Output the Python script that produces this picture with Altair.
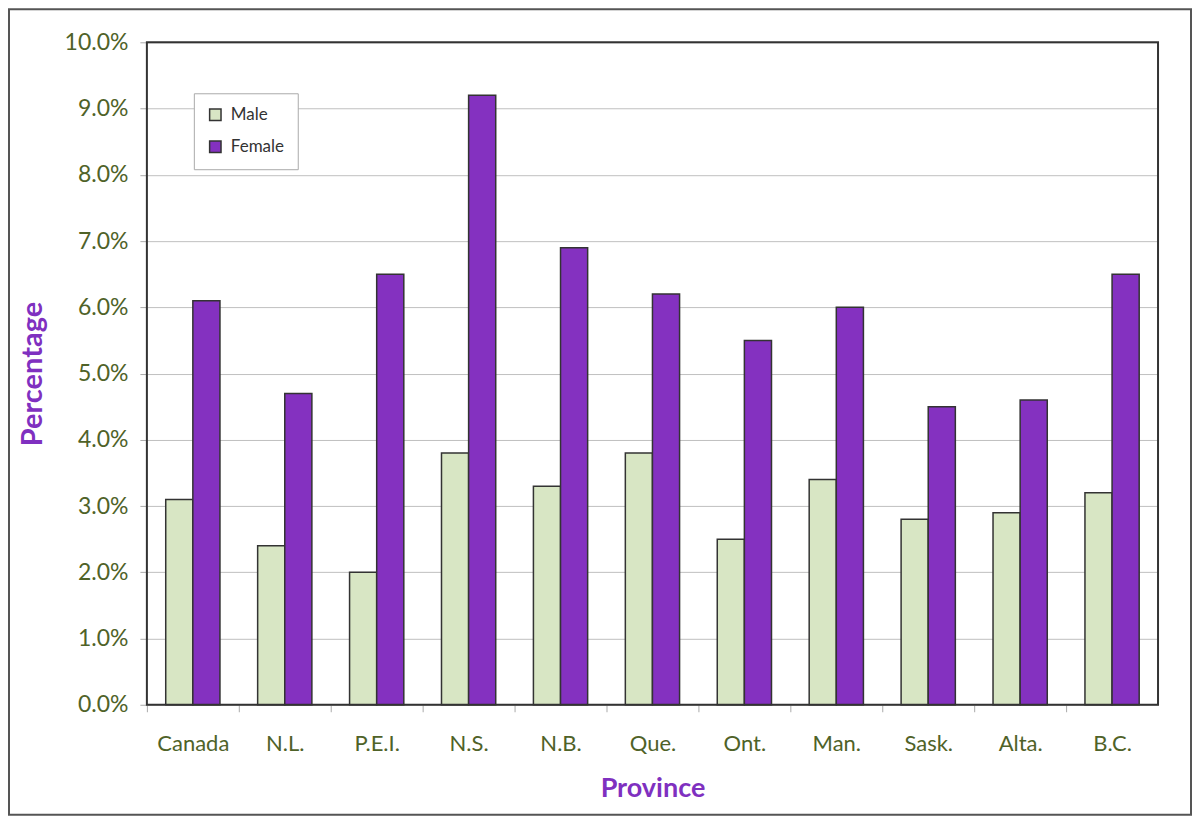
import altair as alt
import pandas as pd

provinces = ["Canada", "N.L.", "P.E.I.", "N.S.", "N.B.", "Que.", "Ont.", "Man.", "Sask.", "Alta.", "B.C."]
male = [3.1, 2.4, 2.0, 3.8, 3.3, 3.8, 2.5, 3.4, 2.8, 2.9, 3.2]
female = [6.1, 4.7, 6.5, 9.2, 6.9, 6.2, 5.5, 6.0, 4.5, 4.6, 6.5]
series = ["Male", "Female"]
colors = ["#d8e6c4", "#8431c0"]
y_ticks = [i / 100 for i in range(0, 11)]

rows = []
for p, m, f in zip(provinces, male, female):
    rows.append({"Province": p, "Sex": "Male", "Value": m / 100})
    rows.append({"Province": p, "Sex": "Female", "Value": f / 100})
df = pd.DataFrame(rows)

W, H = 1012, 663
PL, PT, PR, PB = 139, 34, 34, 111

font = "Lato"
label_color = "#4f6228"
title_color = "#7f30c0"

bars = alt.Chart(df).mark_bar(stroke="#333333", strokeWidth=1.5).encode(
    x=alt.X(
        "Province:N",
        sort=provinces,
        scale=alt.Scale(paddingInner=0.41, paddingOuter=0.205),
        axis=alt.Axis(
            title="Province",
            labelAngle=0,
            labelFont=font,
            labelFontSize=22,
            labelColor=label_color,
            labelPadding=22,
            ticks=True,
            tickSize=7,
            tickColor="#aaaaaa",
            tickOffset=-46,
            labelOffset=46,
            domain=False,
            grid=False,
            titleFont=font,
            titleFontSize=27,
            titleFontWeight="bold",
            titleColor=title_color,
            titleY=84,
            titleBaseline="middle",
        ),
    ),
    xOffset=alt.XOffset("Sex:N", sort=series),
    y=alt.Y(
        "Value:Q",
        scale=alt.Scale(domain=[0, 0.1], nice=False),
        axis=alt.Axis(
            title="Percentage",
            format=".1%",
            values=y_ticks,
            labelFont=font,
            labelFontSize=23,
            labelColor=label_color,
            labelPadding=12,
            tickSize=7,
            tickColor="#aaaaaa",
            gridColor="#c0c0c0",
            gridWidth=1,
            domain=False,
            titleFont=font,
            titleFontSize=29,
            titleFontWeight="bold",
            titleColor=title_color,
            titleX=-114,
            titleY=H / 2,
            titleAngle=-90,
            titleAlign="center",
            titleBaseline="middle",
        ),
    ),
    color=alt.Color(
        "Sex:N",
        sort=series,
        scale=alt.Scale(domain=series, range=colors),
        legend=alt.Legend(
            title=None,
            orient="none",
            legendX=47,
            legendY=51,
            symbolType="square",
            symbolSize=130,
            symbolStrokeColor="#333333",
            symbolStrokeWidth=1.5,
            labelFont=font,
            labelFontSize=17,
            labelColor="#333333",
            rowPadding=13,
            padding=13,
            fillColor="white",
            strokeColor="#aaaaaa",
            labelOffset=7,
        ),
    ),
)

frame = alt.Chart(pd.DataFrame({"a": [0]})).mark_rect(
    fill=None, stroke="#333333", strokeWidth=2, clip=False
).encode(
    x=alt.value(0),
    x2=alt.value(W),
    y=alt.value(0),
    y2=alt.value(H),
)

border = alt.Chart(pd.DataFrame({"a": [0]})).mark_rect(
    fill=None, stroke="#555555", strokeWidth=2, clip=False
).encode(
    x=alt.value(-PL + 1),
    x2=alt.value(W + PR - 1),
    y=alt.value(-PT + 1),
    y2=alt.value(H + PB - 1),
)

chart = alt.layer(bars, frame, border).properties(
    width=W,
    height=H,
    autosize=alt.AutoSizeParams(type="none"),
    padding={"left": PL, "top": PT, "right": PR, "bottom": PB},
).configure_view(
    strokeWidth=0
).configure(background="white")

chart.save("out.html", embed_options={"renderer": "svg", "actions": False})
